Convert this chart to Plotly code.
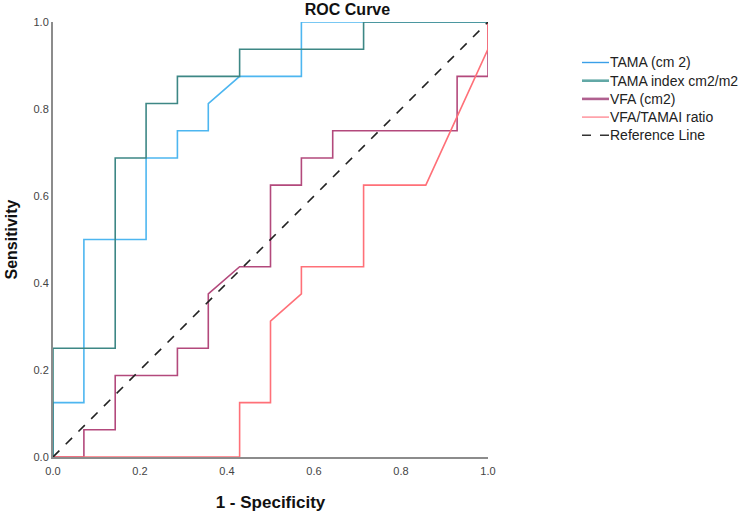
import plotly.graph_objects as go

# ---- data ----
series_names = ["TAMA (cm 2)", "TAMA index cm2/m2", "VFA (cm2)", "VFA/TAMAI ratio", "Reference Line"]
series_colors = ["#4DB6F0", "#3D8785", "#B3497C", "#FF7078", "#222222"]
legend_colors = ["#3A9FE8", "#62A8A6", "#B0608F", "#FF8C96", "#333333"]

tama_fpr = [0, 0, 0.071, 0.071, 0.214, 0.214, 0.286, 0.286, 0.357, 0.357, 0.429, 0.571, 0.571, 1]
tama_tpr = [0, 0.125, 0.125, 0.5, 0.5, 0.6875, 0.6875, 0.75, 0.75, 0.8125, 0.875, 0.875, 1, 1]

tamai_fpr = [0, 0, 0.143, 0.143, 0.214, 0.214, 0.286, 0.286, 0.429, 0.429, 0.714, 0.714, 1]
tamai_tpr = [0, 0.25, 0.25, 0.6875, 0.6875, 0.8125, 0.8125, 0.875, 0.875, 0.9375, 0.9375, 1, 1]

vfa_fpr = [0, 0.071, 0.071, 0.143, 0.143, 0.286, 0.286, 0.357, 0.357, 0.429, 0.5, 0.5,
           0.571, 0.571, 0.643, 0.643, 0.929, 0.929, 1, 1]
vfa_tpr = [0, 0, 0.0625, 0.0625, 0.1875, 0.1875, 0.25, 0.25, 0.375, 0.4375, 0.4375, 0.625,
           0.625, 0.6875, 0.6875, 0.75, 0.75, 0.875, 0.875, 1]

ratio_fpr = [0, 0.429, 0.429, 0.5, 0.5, 0.571, 0.571, 0.714, 0.714, 0.857, 1, 1]
ratio_tpr = [0, 0, 0.125, 0.125, 0.3125, 0.375, 0.4375, 0.4375, 0.625, 0.625, 0.9375, 1]

ref_x = [0, 1]
ref_y = [0, 1]

tick_vals = [0.0, 0.2, 0.4, 0.6, 0.8, 1.0]
tick_text = ["0.0", "0.2", "0.4", "0.6", "0.8", "1.0"]

# ---- layout geometry (pixels) ----
W, H = 744, 512
ML, MR, MT, MB = 53, 256, 22, 55
PW, PH = W - ML - MR, H - MT - MB

def px_x(px):
    return (px - ML) / PW

def px_y(py):
    return (H - MB - py) / PH

fig = go.Figure()
xs = [tama_fpr, tamai_fpr, vfa_fpr, ratio_fpr, ref_x]
ys = [tama_tpr, tamai_tpr, vfa_tpr, ratio_tpr, ref_y]
dashes = ["solid", "solid", "solid", "solid", "dash"]
for name, col, x, y, d in zip(series_names, series_colors, xs, ys, dashes):
    fig.add_trace(go.Scatter(x=x, y=y, mode="lines", name=name, showlegend=False,
                             line=dict(color=col, width=1.6, dash=d), cliponaxis=False))

font_family = "Liberation Sans, Arial, sans-serif"

# legend drawn as line samples + text
legend_widths = [1.4, 2.6, 2.6, 1.4, 1.6]
row0, row_gap = 62.5, 18.2
for i, (name, col, lw, d) in enumerate(zip(series_names, legend_colors, legend_widths, dashes)):
    yy = px_y(row0 + i * row_gap)
    fig.add_shape(type="line", xref="paper", yref="paper",
                  x0=px_x(582), x1=px_x(609), y0=yy, y1=yy,
                  line=dict(color=col, width=lw, dash="dash" if d == "dash" else "solid"))
    fig.add_annotation(xref="paper", yref="paper", x=px_x(607.5), y=yy,
                       xanchor="left", yanchor="middle", showarrow=False, text=name,
                       font=dict(family=font_family, size=14, color="#222222"))

axis_common = dict(range=[0, 1], tickvals=tick_vals, ticktext=tick_text,
                   showgrid=False, zeroline=False, showline=True,
                   linecolor="#8c8c8c", linewidth=2, ticks="", automargin=False,
                   tickfont=dict(family=font_family, size=11, color="#444444"),
                   layer="below traces")

fig.update_layout(
    width=W, height=H,
    margin=dict(l=ML, r=MR, t=MT, b=MB, pad=0, autoexpand=False),
    paper_bgcolor="white", plot_bgcolor="white",
    font=dict(family=font_family, color="#222222"),
    showlegend=False,
    xaxis=dict(**axis_common, ticklabelstandoff=3,
               title=dict(text="<b>1 - Specificity</b>", standoff=24,
                          font=dict(family=font_family, size=17, color="#111111"))),
    yaxis=dict(**axis_common,
               title=dict(text="<b>Sensitivity</b>", standoff=12,
                          font=dict(family=font_family, size=16, color="#111111"))),
    title=dict(text="<b>ROC Curve</b>", x=347.5 / W, xanchor="center",
               y=1 - 9 / H, yanchor="middle",
               font=dict(family=font_family, size=16, color="#111111")),
)

fig.write_html("out.html")
